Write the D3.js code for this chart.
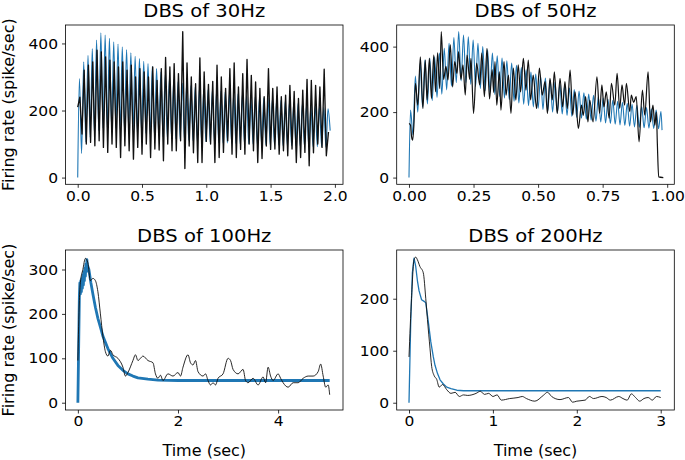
<!DOCTYPE html>
<html><head><meta charset="utf-8">
<script src="https://cdn.jsdelivr.net/npm/d3@7"></script>
<style>
body{margin:0;background:#fff}
svg{display:block;background:#fff}
text{font-family:"DejaVu Sans",sans-serif;fill:#000}
</style>
</head><body>
<svg id="chart" width="685" height="460"></svg>
<script>
// ---------- DATA ----------
const titles = ["DBS of 30Hz", "DBS of 50Hz", "DBS of 100Hz", "DBS of 200Hz"];
const yLabel = "Firing rate (spike/sec)";
const xLabel = "Time (sec)";

// 30 Hz panel: one peak / trough per stimulation cycle
const period30 = 1 / 30;
const black30Start = 210;
const black30Peaks = [240,320,335,345,380,375,360,350,345,330,345,320,335,300,325,315,300,330,290,325,358,330,340,310,435,342,300,280,357,315,278,287,335,300,266,325,342,270,310,352,305,285,266,241,325,266,270,241,246,275,257,236,261,293,290,275,270,323,136];
const black30Troughs = [130,100,105,95,110,90,75,100,90,60,95,80,55,90,70,100,60,85,82,50,100,80,80,110,27,94,74,45,45,108,100,45,60,75,110,70,60,84,70,100,80,45,57,94,84,85,70,80,65,85,45,60,75,35,74,100,90,65];
const blue30Peaks = [295,345,365,385,410,432,425,415,405,398,390,382,372,362,355,347,340,332,325,315,305,298,292,286,282,278,274,270,267,265,262,260,259,257,256,253,251,250,247,245,244,241,239,237,236,233,231,230,227,225,224,221,219,217,215,213,211,209,205];
const blue30Troughs = [72,106,120,130,140,148,150,150,148,146,144,142,140,137,135,132,130,127,125,122,120,118,116,114,112,111,110,109,108,107,106,105,104,103,103,102,102,101,101,100,100,99,99,98,98,97,97,96,96,95,95,94,94,93,93,92,92,91,140];

// 50 Hz panel
const blue50Period = 0.01865, blue50Offset = 0.006, blue50End = [0.98, 145];
const blue50Peaks = [206,310,349,360,364,369,380,395,410,428,446,435,430,420,410,400,390,380,372,365,357,350,343,336,329,322,316,310,304,298,292,286,280,274,269,264,259,255,251,247,243,239,236,233,230,227,224,221,217,214,210,206,202];
const blue50Troughs = [130,200,215,225,235,245,255,268,280,290,295,290,285,278,272,266,260,254,248,243,238,233,228,224,220,216,212,208,204,200,197,194,190,187,184,181,178,175,172,170,167,165,163,161,159,157,155,153,152,151,150,149];
const black50T = [0,0.006,0.01,0.014,0.019,0.025,0.034,0.044,0.054,0.063,0.07,0.079,0.087,0.096,0.103,0.111,0.119,0.125,0.134,0.143,0.151,0.16,0.169,0.177,0.186,0.192,0.201,0.209,0.218,0.225,0.235,0.24,0.25,0.262,0.274,0.282,0.292,0.302,0.312,0.322,0.328,0.333,0.34,0.35,0.356,0.368,0.376,0.385,0.395,0.404,0.414,0.423,0.432,0.443,0.453,0.462,0.471,0.481,0.494,0.505,0.516,0.527,0.536,0.546,0.555,0.563,0.574,0.585,0.595,0.604,0.613,0.624,0.634,0.643,0.656,0.668,0.675,0.684,0.693,0.7,0.713,0.728,0.738,0.747,0.755,0.764,0.775,0.784,0.797,0.806,0.816,0.825,0.835,0.842,0.855,0.861,0.87,0.88,0.891,0.904,0.913,0.926,0.935,0.945,0.952,0.958,0.962,0.967,0.985];
const black50V = [165,160,125,114,160,288,221,369,211,359,237,364,242,374,262,381,272,446,300,340,298,405,277,354,318,385,300,344,252,374,300,364,196,350,283,380,247,395,240,330,260,354,221,323,206,354,252,313,196,334,237,344,262,364,267,359,237,313,211,334,252,293,196,303,237,323,196,303,216,293,211,328,191,262,150,221,190,247,170,237,170,308,196,283,216,262,181,288,221,318,211,283,221,288,201,252,230,247,109,267,191,323,170,221,160,200,100,2,0];

// 100 Hz panel
const blue100T = [0,0.02,0.03,0.04,0.05,0.06,0.07,0.08,0.09,0.1,0.11,0.12,0.13,0.14,0.15,0.16,0.17,0.18,0.19,0.22,0.26,0.3,0.35,0.4,0.45,0.5,0.6,0.7,0.8,0.9,1.0,1.1,1.2,1.4,1.6,2.0,5.03];
const blue100V = [0,160,240,270,245,275,250,280,258,288,265,295,275,303,285,312,295,322,310,300,270,245,215,190,170,150,122,100,84,73,65,60,56,53,51,50,50];
const black100T = [0,0.03,0.05,0.1,0.15,0.2,0.25,0.3,0.35,0.4,0.45,0.5,0.55,0.6,0.65,0.7,0.8,0.9,0.95,1.0,1.1,1.15,1.2,1.25,1.3,1.4,1.5,1.55,1.6,1.65,1.7,1.8,1.9,2.0,2.05,2.1,2.2,2.25,2.3,2.35,2.4,2.5,2.55,2.6,2.65,2.7,2.75,2.8,2.9,3.0,3.05,3.1,3.2,3.3,3.35,3.4,3.5,3.6,3.7,3.75,3.8,3.85,3.9,4.0,4.05,4.1,4.2,4.3,4.4,4.5,4.6,4.7,4.8,4.85,4.9,4.95,5.0,5.03];
const black100V = [95,230,270,300,325,315,275,280,275,250,200,150,115,105,118,108,100,80,60,68,95,108,95,100,105,95,90,65,55,62,50,65,60,68,60,80,108,90,85,95,70,60,65,50,40,45,40,55,65,100,95,75,65,75,50,45,55,40,58,45,80,60,50,65,55,45,35,45,45,55,60,60,70,87,60,35,40,18];

// 200 Hz panel
const blue200T = [0,0.02,0.04,0.06,0.08,0.1,0.12,0.15,0.18,0.2,0.23,0.26,0.29,0.31,0.34,0.37,0.41,0.45,0.5,0.57,0.65,0.8,3.0];
const blue200V = [0,150,250,278,262,235,215,198,195,192,156,117,88,72,56,44,36,30,27,24,23,23,23];
const black200T = [0,0.03,0.06,0.08,0.1,0.13,0.17,0.2,0.22,0.25,0.27,0.3,0.33,0.36,0.4,0.45,0.5,0.55,0.6,0.65,0.7,0.8,0.85,0.9,0.95,1.0,1.05,1.1,1.2,1.3,1.35,1.4,1.5,1.6,1.65,1.7,1.8,1.9,1.95,2.0,2.1,2.15,2.2,2.3,2.35,2.4,2.5,2.55,2.6,2.65,2.7,2.75,2.8,2.85,2.9,2.95,3.0];
const black200V = [88,200,275,280,275,262,250,200,160,105,70,52,45,30,35,25,18,20,12,15,14,18,22,16,18,12,15,5,8,10,12,8,3,14,20,12,6,10,1,3,5,12,8,12,10,5,12,8,5,17,10,3,8,10,5,12,10];

// tick values
const xTicks = [[0,0.5,1,1.5,2],[0,0.25,0.5,0.75,1],[0,2,4],[0,1,2,3]];
const yTicks = [[0,200,400],[0,200,400],[0,100,200,300],[0,100,200]];
const xFormats = [".1f", ".2f", "d", "d"];

// ---------- build series ----------
function zipTV(t, v) { return t.map((d, i) => [d, v[i]]); }

const black30 = [[0, black30Start]];
black30Peaks.forEach((p, i) => {
  black30.push([(i + 0.5) * period30, p]);
  if (i < black30Troughs.length) black30.push([(i + 1) * period30, black30Troughs[i]]);
});
const blue30 = [[0, 0]];
blue30Peaks.forEach((p, i) => {
  blue30.push([(i + 0.4) * period30, p]);
  blue30.push([(i + 0.9) * period30, blue30Troughs[i]]);
});
const blue50 = [[0, 0]];
blue50Peaks.forEach((p, i) => {
  blue50.push([blue50Offset + i * blue50Period, p]);
  if (i < blue50Troughs.length) blue50.push([blue50Offset + (i + 0.5) * blue50Period, blue50Troughs[i]]);
});
blue50.push(blue50End);

const black50 = zipTV(black50T, black50V);
const blue100 = zipTV(blue100T, blue100V);
const black100 = zipTV(black100T, black100V);
const blue200 = zipTV(blue200T, blue200V);
const black200 = zipTV(black200T, black200V);

// ---------- layout ----------
const BLUE = "#1f77b4", BLACK = "#111111";
const panels = [
  {l: 65.5, r: 343, t: 25, b: 184.3, xd: [-0.095, 2.063], yd: [-20, 455],
   blue: blue30, black: black30, blueW: 1.1, blackW: 1.35, blueCurve: d3.curveMonotoneX, blackCurve: d3.curveLinear, yl: true, xl: false},
  {l: 396.7, r: 674.3, t: 25, b: 184.3, xd: [-0.0476, 1.0275], yd: [-20.5, 466],
   blue: blue50, black: black50, blueW: 1.1, blackW: 1.2, blueCurve: d3.curveMonotoneX, blackCurve: d3.curveMonotoneX, yl: false, xl: false},
  {l: 65.5, r: 343, t: 250, b: 410, xd: [-0.247, 5.296], yd: [-16.4, 343.9],
   blue: blue100, black: black100, blueW: 2.8, blackW: 0.9, blueCurve: d3.curveLinear, blackCurve: d3.curveMonotoneX, yl: true, xl: true},
  {l: 396.7, r: 674.3, t: 250, b: 410, xd: [-0.1466, 3.162], yd: [-14, 293.7],
   blue: blue200, black: black200, blueW: 1.3, blackW: 0.9, blueCurve: d3.curveLinear, blackCurve: d3.curveMonotoneX, yl: false, xl: true}
];

const svg = d3.select("#chart");
svg.append("rect").attr("width", 685).attr("height", 460).attr("fill", "#fff");

panels.forEach((p, k) => {
  const g = svg.append("g");
  const x = d3.scaleLinear().domain(p.xd).range([p.l, p.r]);
  const y = d3.scaleLinear().domain(p.yd).range([p.b, p.t]);

  const clipId = "clip" + k;
  g.append("clipPath").attr("id", clipId).append("rect")
    .attr("x", p.l).attr("y", p.t).attr("width", p.r - p.l).attr("height", p.b - p.t);

  const plot = g.append("g").attr("clip-path", `url(#${clipId})`);
  plot.append("path").datum(p.blue)
    .attr("fill", "none").attr("stroke", BLUE).attr("stroke-width", p.blueW)
    .attr("stroke-linejoin", "round")
    .attr("d", d3.line().x(d => x(d[0])).y(d => y(d[1])).curve(p.blueCurve));
  plot.append("path").datum(p.black)
    .attr("fill", "none").attr("stroke", BLACK).attr("stroke-width", p.blackW)
    .attr("stroke-linejoin", "round")
    .attr("d", d3.line().x(d => x(d[0])).y(d => y(d[1])).curve(p.blackCurve));

  // axes
  const ax = g.append("g").attr("transform", `translate(0,${p.b})`)
    .call(d3.axisBottom(x).tickValues(xTicks[k]).tickFormat(d3.format(xFormats[k])).tickSize(3.5).tickPadding(2.5));
  const ay = g.append("g").attr("transform", `translate(${p.l},0)`)
    .call(d3.axisLeft(y).tickValues(yTicks[k]).tickSize(3.5).tickPadding(3.5));
  [ax, ay].forEach(a => {
    a.select(".domain").remove();
    a.selectAll(".tick line").attr("stroke", "#000").attr("stroke-width", 0.8);
    a.selectAll("text").attr("font-family", "DejaVu Sans, sans-serif").attr("font-size", 14.5)
      .attr("fill", "#000").attr("transform", "scale(1.07,1)");
  });

  // frame
  g.append("rect").attr("x", p.l).attr("y", p.t).attr("width", p.r - p.l).attr("height", p.b - p.t)
    .attr("fill", "none").attr("stroke", "#000").attr("stroke-width", 0.8);

  // title
  const cx = (p.l + p.r) / 2;
  g.append("text").attr("transform", `translate(${cx},${p.t - 8}) scale(1.12,1)`)
    .attr("text-anchor", "middle").attr("font-size", 17.5).text(titles[k]);

  if (p.yl) {
    g.append("text").attr("transform", `translate(13.5,${(p.t + p.b) / 2}) rotate(-90)`)
      .attr("text-anchor", "middle").attr("font-size", 16).text(yLabel);
  }
  if (p.xl) {
    g.append("text").attr("x", cx).attr("y", p.b + 46)
      .attr("text-anchor", "middle").attr("font-size", 16).text(xLabel);
  }
});
</script>
</body></html>
